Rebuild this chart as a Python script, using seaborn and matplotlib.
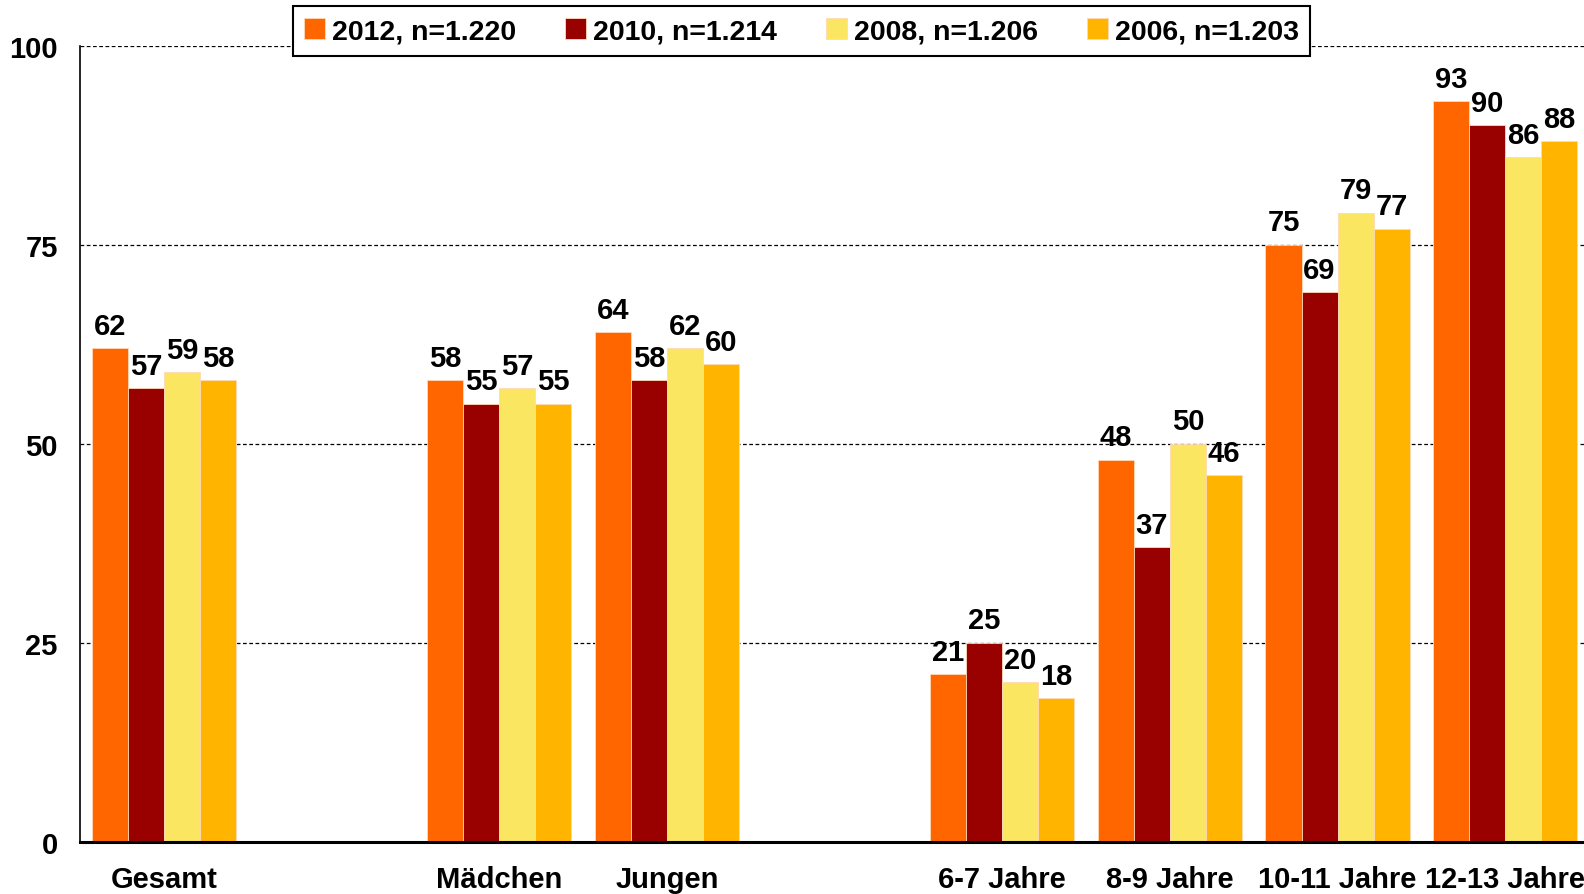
import pandas as pd
import numpy as np
import matplotlib
matplotlib.use("Agg")
import matplotlib.pyplot as plt
import seaborn as sns

# -------------------------
# Data
# -------------------------
categories = ["Gesamt", " ", "Mädchen", "Jungen", "  ",
              "6-7 Jahre", "8-9 Jahre", "10-11 Jahre", "12-13 Jahre"]
groups = ["Gesamt", "Mädchen", "Jungen",
          "6-7 Jahre", "8-9 Jahre", "10-11 Jahre", "12-13 Jahre"]
series = ["2012, n=1.220", "2010, n=1.214", "2008, n=1.206", "2006, n=1.203"]

v2012 = [62, 58, 64, 21, 48, 75, 93]
v2010 = [57, 55, 58, 25, 37, 69, 90]
v2008 = [59, 57, 62, 20, 50, 79, 86]
v2006 = [58, 55, 60, 18, 46, 77, 88]

colors = ["#FF6600", "#990000", "#FAE661", "#FFB400"]

rows = []
for name, vals in zip(series, [v2012, v2010, v2008, v2006]):
    for g, v in zip(groups, vals):
        rows.append({"Gruppe": g, "Jahr": name, "Wert": v})
df = pd.DataFrame(rows)

# -------------------------
# Plot
# -------------------------
sns.set_style("white")
plt.rcParams["font.family"] = ["Liberation Sans", "DejaVu Sans"]
plt.rcParams["font.weight"] = "bold"
plt.rcParams["text.color"] = "black"
plt.rcParams["xtick.color"] = "black"
plt.rcParams["ytick.color"] = "black"

fig = plt.figure(figsize=(15.84, 8.95), dpi=100)
ax = fig.add_axes([0.0505, 0.0585, 0.9527, 0.8895])

sns.barplot(data=df, x="Gruppe", y="Wert", hue="Jahr", order=categories,
            hue_order=series, palette=colors, saturation=1, width=0.86, gap=0,
            edgecolor="#FFD9B8", linewidth=0.6, ax=ax)

for c in ax.containers:
    ax.bar_label(c, fmt="%d", padding=6, fontsize=21, fontweight="bold", color="black")

ax.set_ylim(0, 100)
ax.set_xlim(-0.5, len(categories) - 0.5)
ax.set_yticks([0, 25, 50, 75, 100])
ax.yaxis.grid(True, linestyle=(0, (3, 2)), color="black", linewidth=0.9)
ax.set_axisbelow(True)

ax.set_xticks(range(len(categories)))
ax.set_xticklabels([c.strip() for c in categories], fontsize=21, fontweight="bold")
ax.tick_params(axis="x", length=0, pad=17)
ax.set_xticks(np.arange(-0.5, len(categories) - 0.5, 1), minor=True)
ax.tick_params(axis="x", which="minor", length=9, width=1.5, direction="out", color="black")
ax.tick_params(axis="y", length=6, width=1, direction="out", color="black",
               labelsize=21, pad=10)
for lab in ax.get_yticklabels():
    lab.set_fontweight("bold")

ax.set_xlabel("")
ax.set_ylabel("")
for s in ["top", "right"]:
    ax.spines[s].set_visible(False)
ax.spines["left"].set_color("black")
ax.spines["left"].set_linewidth(1.2)
ax.spines["bottom"].set_color("black")
ax.spines["bottom"].set_linewidth(2.2)

handles, labels = ax.get_legend_handles_labels()
ax.legend_.remove()
leg = fig.legend(handles, labels, loc="center", bbox_to_anchor=(0.506, 1 - 32 / 895),
                 ncol=4, frameon=True, fancybox=False, edgecolor="black",
                 framealpha=1, handlelength=0.75, handleheight=0.75,
                 handletextpad=0.25, columnspacing=1.7, borderpad=0.4,
                 prop={"size": 20.5, "weight": "bold"})
leg.get_frame().set_linewidth(1.5)

fig.savefig("out.png", dpi=100)
